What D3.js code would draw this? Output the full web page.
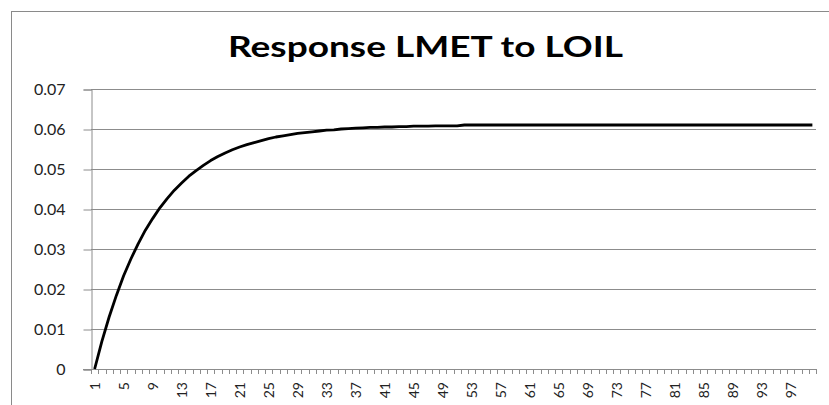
<!DOCTYPE html>
<html><head><meta charset="utf-8">
<script src="https://cdn.jsdelivr.net/npm/d3@7"></script>
<style>body{margin:0;background:#fff;}svg{display:block;}</style>
</head><body>
<script>
const title = "Response LMET to LOIL";
const periods = d3.range(1, 101);
const values = [
0,0.0069,0.0130,0.0184,0.0233,0.0275,0.0313,0.0347,0.0376,0.0403,
0.0426,0.0447,0.0465,0.0482,0.0496,0.0509,0.0521,0.0531,0.0540,0.0548,
0.0555,0.0561,0.0566,0.0571,0.0576,0.0580,0.0583,0.0586,0.0589,0.0591,
0.0593,0.0595,0.0597,0.0598,0.0600,0.0601,0.0602,0.0603,0.0604,0.0604,
0.0605,0.0605,0.0606,0.0606,0.0607,0.0607,0.0607,0.0608,0.0608,0.0608,
0.0608,0.0610,0.0610,0.0610,0.0610,0.0610,0.0610,0.0610,0.0610,0.0610,
0.0610,0.0610,0.0610,0.0610,0.0610,0.0610,0.0610,0.0610,0.0610,0.0610,
0.0610,0.0610,0.0610,0.0610,0.0610,0.0610,0.0610,0.0610,0.0610,0.0610,
0.0610,0.0610,0.0610,0.0610,0.0610,0.0610,0.0610,0.0610,0.0610,0.0610,
0.0610,0.0610,0.0610,0.0610,0.0610,0.0610,0.0610,0.0610,0.0610,0.0610];
const yTicks = [0,0.01,0.02,0.03,0.04,0.05,0.06,0.07];
const yTickLabels = ["0","0.01","0.02","0.03","0.04","0.05","0.06","0.07"];
const xLabelEvery = 4;

(function () {
const W = 829, H = 405;
const svg = d3.select("body").append("svg").attr("width", W).attr("height", H);
svg.append("rect").attr("x", 11.5).attr("y", 11.5).attr("width", 900).attr("height", 500)
  .attr("fill", "#fff").attr("stroke", "#8a8a8a").attr("stroke-width", 1);

const mLeft = 91, mRight = 816, mTop = 89, mBottom = 369;
const x = d3.scaleBand().domain(periods).range([mLeft, mRight]);
const y = d3.scaleLinear().domain([0, 0.07]).range([mBottom, mTop]);

svg.append("g").selectAll("line").data(yTicks.slice(1)).join("line")
  .attr("x1", mLeft).attr("x2", mRight)
  .attr("y1", d => Math.round(y(d)) + 0.5).attr("y2", d => Math.round(y(d)) + 0.5)
  .attr("stroke", "#8c8c8c").attr("stroke-width", 1);

const yAxis = d3.axisLeft(y).tickValues(yTicks).tickSize(8).tickPadding(18)
  .tickFormat((d, i) => yTickLabels[i]);
const gy = svg.append("g").attr("transform", `translate(${mLeft + 0.5},0.5)`).call(yAxis);
gy.select(".domain").attr("stroke", "#8c8c8c");
gy.selectAll(".tick line").attr("stroke", "#8c8c8c");
gy.selectAll("text").attr("font-family", "Lato, 'Open Sans', sans-serif")
  .attr("font-size", 16).attr("fill", "#222");

svg.append("line").attr("x1", mLeft - 8).attr("x2", mRight)
  .attr("y1", mBottom + 0.5).attr("y2", mBottom + 0.5).attr("stroke", "#8c8c8c");
const bounds = periods.map(p => x(p)).concat([mRight]);
svg.append("g").selectAll("line").data(bounds).join("line")
  .attr("x1", d => Math.round(d) + 0.5).attr("x2", d => Math.round(d) + 0.5)
  .attr("y1", mBottom).attr("y2", mBottom + 5).attr("stroke", "#8c8c8c");
svg.append("g").selectAll("text").data(periods.filter((p, i) => i % xLabelEvery === 0)).join("text")
  .attr("transform", p => `translate(${x(p) + x.bandwidth() / 2 + 5},${mBottom + 13}) rotate(-90)`)
  .attr("text-anchor", "end")
  .attr("font-family", "Lato, 'Open Sans', sans-serif").attr("font-size", 14).attr("fill", "#222")
  .text(p => p);

const line = d3.line().x((d, i) => x(periods[i]) + x.bandwidth() / 2).y(d => y(d));
svg.append("path").datum(values).attr("d", line).attr("fill", "none")
  .attr("stroke", "#000").attr("stroke-width", 2.8).attr("stroke-linejoin", "round");

svg.append("text").attr("x", 228).attr("y", 57)
  .attr("textLength", 395).attr("lengthAdjust", "spacingAndGlyphs")
  .attr("font-family", "Lato, 'Open Sans', sans-serif").attr("font-weight", "bold")
  .attr("font-size", 28).attr("fill", "#000").text(title);
})();
</script>
</body></html>
